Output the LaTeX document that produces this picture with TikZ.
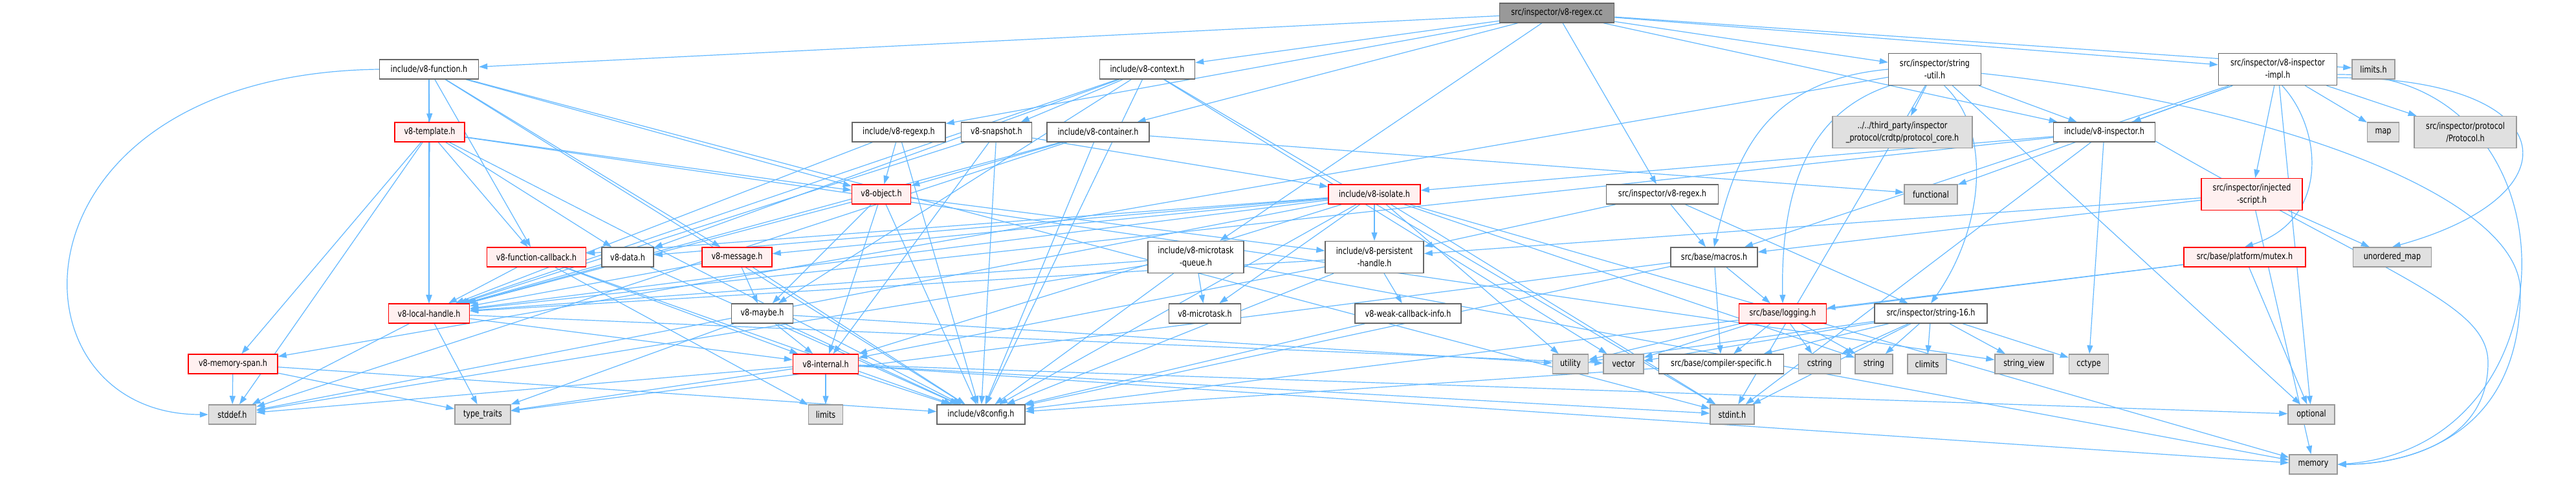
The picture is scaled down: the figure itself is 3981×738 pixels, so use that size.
\documentclass[tikz,border=0pt]{standalone}
\usepackage{fontspec}
\setmainfont[FakeStretch=0.8]{DejaVu Sans}
\usetikzlibrary{arrows.meta}
\pgfdeclarelayer{bg}
\pgfsetlayers{bg,main}
\definecolor{edgec}{HTML}{63B8FF}
\definecolor{redfill}{HTML}{FFF0F0}
\definecolor{grayfill}{HTML}{E0E0E0}
\definecolor{grayline}{HTML}{999999}
\definecolor{darkline}{HTML}{666666}
\definecolor{topfill}{HTML}{999999}
\tikzset{
  box/.style={draw=darkline, line width=1.5pt, fill=white, minimum height=30pt, inner sep=2pt,
    font=\fontsize{14}{19}\selectfont, align=center},
  twol/.style={minimum height=49pt},
  sys/.style={box, draw=grayline, fill=grayfill},
  trunc/.style={box, draw=red, fill=redfill},
  topn/.style={box, fill=topfill},
  edge/.style={draw=edgec, line width=1.2pt, -{Triangle[length=13pt,width=9pt]}}
}
\begin{document}
\begin{tikzpicture}[x=1pt,y=-1pt]
\useasboundingbox (0,0) rectangle (3981,738);
% rank 0
\node[topn, minimum width=177pt] (top) at (2406,20) {src/inspector/v8-regex.cc};
% rank 1
\node[box, minimum width=153pt] (func) at (663,107) {include/v8-function.h};
\node[box, minimum width=147pt] (ctx) at (1773,107) {include/v8-context.h};
\node[box, twol, minimum width=143pt] (strutil) at (2990,107) {src/inspector/string\\-util.h};
\node[box, twol, minimum width=183pt] (impl) at (3520,107) {src/inspector/v8-inspector\\-impl.h};
\node[sys, minimum width=66pt] (limitsh) at (3668,107) {limits.h};
% rank 2
\node[trunc, minimum width=108pt] (tmpl) at (664,204) {v8-template.h};
\node[box, minimum width=144pt] (regexp) at (1389,204) {include/v8-regexp.h};
\node[box, minimum width=109pt] (snap) at (1540,204) {v8-snapshot.h};
\node[box, minimum width=158pt] (cont) at (1697,204) {include/v8-container.h};
\node[sys, twol, minimum width=216pt] (crdtp) at (2940,204) {../../third\_party/inspector\\\_protocol/crdtp/protocol\_core.h};
\node[box, minimum width=157pt] (insp) at (3252,204) {include/v8-inspector.h};
\node[sys, minimum width=49pt] (map) at (3683,204) {map};
\node[sys, twol, minimum width=158pt] (proto) at (3810,204) {src/inspector/protocol\\/Protocol.h};
% rank 3
\node[trunc, minimum width=91pt] (obj) at (1362,300) {v8-object.h};
\node[trunc, minimum width=142pt] (iso) at (2124,300) {include/v8-isolate.h};
\node[box, minimum width=173pt] (regexh) at (2569,300) {src/inspector/v8-regex.h};
\node[sys, minimum width=82pt] (functional) at (2984,300) {functional};
\node[trunc, twol, minimum width=156pt] (inj) at (3480,300) {src/inspector/injected\\-script.h};
% rank 4
\node[trunc, minimum width=153pt] (cb) at (829,397) {v8-function-callback.h};
\node[box, minimum width=80pt] (data) at (970,397) {v8-data.h};
\node[trunc, minimum width=108pt] (msg) at (1139,397) {v8-message.h};
\node[box, twol, minimum width=148pt] (mtq) at (1848,397) {include/v8-microtask\\-queue.h};
\node[box, twol, minimum width=152pt] (pers) at (2124,397) {include/v8-persistent\\-handle.h};
\node[box, minimum width=134pt] (macros) at (2649,397) {src/base/macros.h};
\node[trunc, minimum width=188pt] (mutex) at (3469,397) {src/base/platform/mutex.h};
\node[sys, minimum width=121pt] (umap) at (3697,397) {unordered\_map};
% rank 5
\node[trunc, minimum width=125pt] (local) at (663,484) {v8-local-handle.h};
\node[box, minimum width=95pt] (maybe) at (1178,484) {v8-maybe.h};
\node[box, minimum width=111pt] (mt) at (1862,484) {v8-microtask.h};
\node[box, minimum width=164pt] (weak) at (2176,484) {v8-weak-callback-info.h};
\node[trunc, minimum width=135pt] (logging) at (2755,484) {src/base/logging.h};
\node[box, minimum width=174pt] (s16) at (2984,484) {src/inspector/string-16.h};
% rank 6
\node[trunc, minimum width=138pt] (span) at (360,562) {v8-memory-span.h};
\node[trunc, minimum width=101pt] (internal) at (1276,562) {v8-internal.h};
\node[sys, minimum width=55pt] (utility) at (2427,562) {utility};
\node[sys, minimum width=62pt] (vector) at (2509,562) {vector};
\node[box, minimum width=193pt] (cspec) at (2660,562) {src/base/compiler-specific.h};
\node[sys, minimum width=65pt] (cstring) at (2812,562) {cstring};
\node[sys, minimum width=58pt] (string) at (2896,562) {string};
\node[sys, minimum width=60pt] (climits) at (2978,562) {climits};
\node[sys, minimum width=90pt] (sview) at (3128,562) {string\_view};
\node[sys, minimum width=61pt] (cctype) at (3228,562) {cctype};
% rank 7
\node[sys, minimum width=73pt] (stddef) at (359,640) {stddef.h};
\node[sys, minimum width=86pt] (ttraits) at (746,640) {type\_traits};
\node[sys, minimum width=53pt] (limits) at (1276,640) {limits};
\node[box, minimum width=136pt] (config) at (1516,640) {include/v8config.h};
\node[sys, minimum width=68pt] (stdint) at (2677,640) {stdint.h};
\node[sys, minimum width=72pt] (optional) at (3572,640) {optional};
% rank 8
\node[sys, minimum width=74pt] (memory) at (3575,717) {memory};

\begin{pgfonlayer}{bg}
\foreach \b in {func,ctx,regexp,cont,mtq,insp,strutil,regexh,impl,limitsh} \draw[edge] (top) -- (\b);
\foreach \b in {tmpl,cb,local,msg,obj,config,stdint} \draw[edge] (func) -- (\b);
\draw[edge] (func.west) .. controls (0,115) and (0,640) .. (stddef.west);
\foreach \b in {data,cb,local,span,obj,config,stddef,sview} \draw[edge] (tmpl) -- (\b);
\foreach \b in {data,local,maybe,snap,config,stdint,vector} \draw[edge] (ctx) -- (\b);
\foreach \b in {local,obj,config} \draw[edge] (regexp) -- (\b);
\foreach \b in {internal,iso,local,config} \draw[edge] (snap) -- (\b);
\foreach \b in {local,obj,config,stddef,functional} \draw[edge] (cont) -- (\b);
\foreach \b in {internal,local,maybe,pers,config} \draw[edge] (obj) -- (\b);
\foreach \b in {stddef,stdint,memory,string,utility,data,cb,internal,local,msg,mt,pers,config} \draw[edge] (iso) -- (\b);
\foreach \b in {internal,local,config,limits} \draw[edge] (cb) -- (\b);
\foreach \b in {local,config} \draw[edge] (data) -- (\b);
\foreach \b in {local,maybe,config} \draw[edge] (msg) -- (\b);
\foreach \b in {stddef,ttraits,internal,vector} \draw[edge] (local) -- (\b);
\foreach \b in {stddef,ttraits,config} \draw[edge] (span) -- (\b);
\foreach \b in {ttraits,utility,internal,config} \draw[edge] (maybe) -- (\b);
\foreach \b in {stddef,stdint,limits,memory,optional,ttraits,config} \draw[edge] (internal) -- (\b);
\foreach \b in {stddef,memory,local,mt,config} \draw[edge] (mtq) -- (\b);
\foreach \b in {internal,local,weak,config} \draw[edge] (pers) -- (\b);
\draw[edge] (weak) -- (config);
\foreach \b in {macros,pers,s16} \draw[edge] (regexh) -- (\b);
\foreach \b in {cspec,logging,ttraits,config} \draw[edge] (macros) -- (\b);
\foreach \b in {cstring,string,cspec,utility,vector} \draw[edge] (logging) -- (\b);
\draw[edge] (cspec) -- (config);
\foreach \b in {cctype,climits,cstring,string,sview,utility,vector,cspec,stdint} \draw[edge] (s16) -- (\b);
\foreach \b in {crdtp,insp,stdint,optional,span} \draw[edge] (strutil) -- (\b);
\draw[edge] (strutil.west) .. controls (2720,125) and (2680,250) .. (macros.north);
\draw[edge] (strutil.200) .. controls (2790,175) and (2752,300) .. (logging.north);
\draw[edge] (strutil.-60) .. controls (3078,200) and (3068,350) .. (s16.north);
\draw[edge] (strutil.-5) .. controls (3500,160) and (3895,300) .. (3895,450) .. controls (3895,690) and (3700,717) .. (memory.east);
\foreach \b in {stdint,cctype,iso,local} \draw[edge] (insp) -- (\b);
\draw[edge] (insp.-10) .. controls (3700,430) and (3845,470) .. (3845,560) .. controls (3845,690) and (3700,717) .. (memory.east);
\foreach \b in {functional,map,optional,insp,macros,inj,proto} \draw[edge] (impl) -- (\b);
\draw[edge] (impl.-75) .. controls (3590,200) and (3600,340) .. (mutex.north);
\draw[edge] (impl.-8) .. controls (3960,120) and (3990,300) .. (umap.north);
\draw[edge] (impl.-5) .. controls (3990,110) and (3990,690) .. (memory.east);
\foreach \b in {pers,macros,memory,umap} \draw[edge] (inj) -- (\b);
\foreach \b in {logging,optional,config} \draw[edge] (mutex) -- (\b);
\end{pgfonlayer}
\end{tikzpicture}
\end{document}
